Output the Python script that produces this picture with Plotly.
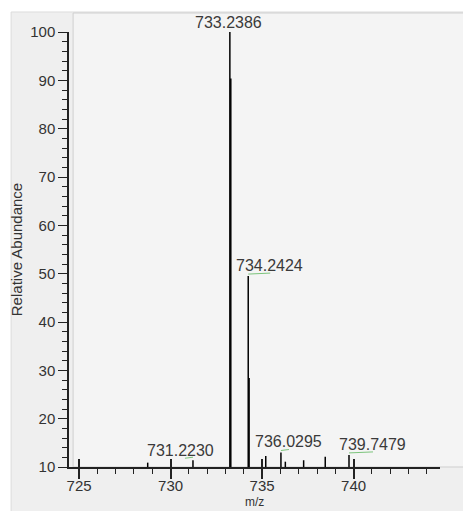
import plotly.graph_objects as go

# ---- data ----
peak_mz = [728.75, 731.2230, 733.2386, 733.29, 734.2424, 734.29,
           735.20, 736.0295, 736.27, 737.27, 738.45, 739.7479]
peak_int = [10.9, 11.4, 100.0, 90.4, 49.5, 28.4,
            12.3, 13.0, 11.1, 11.4, 12.1, 12.5]

label_mz = [731.2230, 733.2386, 734.2424, 736.0295, 739.7479]
label_int = [11.4, 100.0, 49.5, 13.0, 12.5]
label_text = ["731.2230", "733.2386", "734.2424", "736.0295", "739.7479"]

x_ticks = [725, 730, 735, 740]
y_ticks = [10, 20, 30, 40, 50, 60, 70, 80, 90, 100]
x_title = "m/z"
y_title = "Relative Abundance"

# label placement (pixels) and small connector marks
label_dx = [-12, -1, 21, 8, 23]
label_dy = [10, 10, 11, 11, 10]
mark_x0 = [-8, 0, 0, 0, 0]
mark_x1 = [0, 0, 22, 8, 24]

FONT = "Arial, Liberation Sans, sans-serif"
BASE = 10

xs, ys = [], []
for m, h in zip(peak_mz, peak_int):
    xs += [m, m, None]
    ys += [BASE, h, None]

fig = go.Figure()
fig.add_trace(go.Scatter(x=xs, y=ys, mode="lines",
                         line=dict(color="#000000", width=1.5),
                         hoverinfo="skip", showlegend=False, cliponaxis=False))
# invisible helper trace for the overlay axis (crossing ticks)
fig.add_trace(go.Scatter(x=[x_ticks[0]], y=[BASE], xaxis="x2", mode="markers",
                         marker=dict(opacity=0), hoverinfo="skip", showlegend=False))

annotations = []
for m, h, t, dx, dy in zip(label_mz, label_int, label_text, label_dx, label_dy):
    annotations.append(dict(x=m, y=h, xref="x", yref="y", text=t, showarrow=False,
                            xanchor="center", yanchor="middle", xshift=dx, yshift=dy,
                            font=dict(family=FONT, size=16, color="#3a3a3a")))
# x-axis title at the bottom edge
annotations.append(dict(x=0.5, y=-0.1011, xref="paper", yref="paper", text=x_title,
                        showarrow=False, xanchor="center", yanchor="bottom",
                        font=dict(family=FONT, size=12, color="#333333")))

shapes = [
    # grey panel
    dict(type="rect", xref="paper", yref="paper", x0=-0.156, x1=1.1, y0=-0.2, y1=1.046,
         fillcolor="#efefef", line=dict(color="#dcdcdc", width=1), layer="below"),
    # plot box
    dict(type="rect", xref="paper", yref="paper", x0=0.011, x1=1.1, y0=0, y1=1.0437,
         fillcolor="#f4f4f4", line=dict(color="#cfcfcf", width=1), layer="below"),
]
for i, (m, h) in enumerate(zip(label_mz, label_int)):
    if mark_x1[i] - mark_x0[i] > 0:
        shapes.append(dict(type="line", xref="x", yref="y",
                           xsizemode="pixel", xanchor=m, x0=mark_x0[i], x1=mark_x1[i],
                           ysizemode="pixel", yanchor=h, y0=2, y1=3,
                           line=dict(color="#7cc47c", width=1)))

xrange = [724.45, 744.72]
fig.update_layout(
    width=463, height=511,
    margin=dict(l=69, r=23, t=32, b=44),
    paper_bgcolor="#ffffff",
    plot_bgcolor="rgba(0,0,0,0)",
    font=dict(family=FONT, size=15, color="#333333"),
    showlegend=False,
    annotations=annotations,
    shapes=shapes,
    xaxis=dict(range=xrange, tickvals=x_ticks, ticktext=[str(v) for v in x_ticks],
               ticks="outside", ticklen=10, tickwidth=1.5, tickcolor="#222222",
               showline=True, linecolor="#222222", linewidth=1.5,
               showgrid=False, zeroline=False, automargin=False,
               ticklabelstandoff=-6,
               minor=dict(dtick=1, ticks="outside", ticklen=5, tickwidth=1.3,
                          tickcolor="#222222", showgrid=False),
               tickfont=dict(family=FONT, size=15, color="#333333")),
    xaxis2=dict(range=xrange, overlaying="x", anchor="y", side="bottom",
                tickvals=x_ticks, ticks="inside", ticklen=8, tickwidth=1.5,
                tickcolor="#222222", showticklabels=False, showline=False,
                showgrid=False, zeroline=False, automargin=False),
    yaxis=dict(range=[10, 100], tickvals=y_ticks,
               ticks="outside", ticklen=9, tickwidth=1.3, tickcolor="#222222",
               showline=True, linecolor="#222222", linewidth=1.5,
               showgrid=False, zeroline=False, automargin=False,
               minor=dict(dtick=2, ticks="outside", ticklen=5, tickwidth=1.2,
                          tickcolor="#222222", showgrid=False),
               tickfont=dict(family=FONT, size=15, color="#333333"),
               title=dict(text=y_title, standoff=4,
                          font=dict(family=FONT, size=15, color="#333333"))),
)

fig.write_html("out.html")
